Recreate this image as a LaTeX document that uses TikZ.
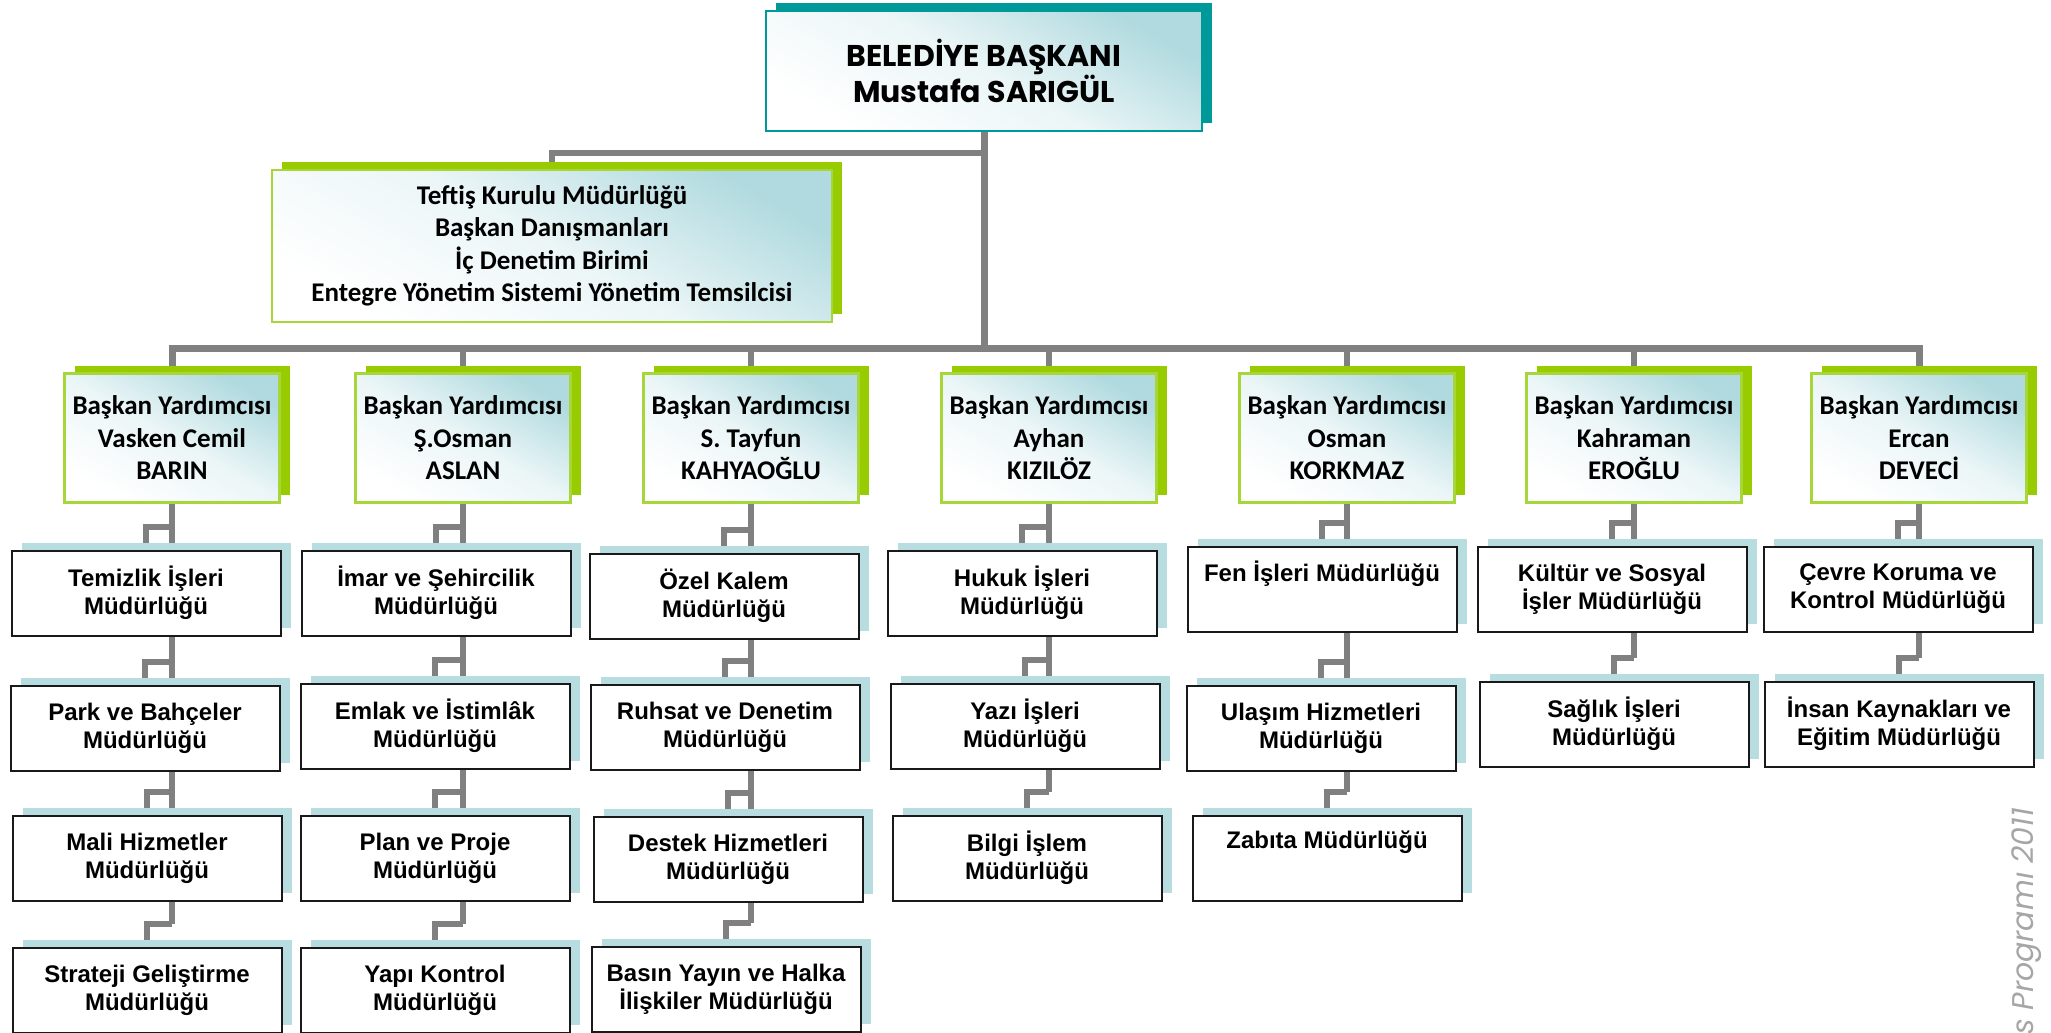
\documentclass[tikz,border=0pt]{standalone}
\usepackage{fontspec}
\usetikzlibrary{shadows,calc}
\newfontfamily\calfont{Carlito}
\newfontfamily\arfont{Liberation Sans}
\newfontfamily\gothfont{Poppins}
\definecolor{tealc}{HTML}{009999}
\definecolor{greenc}{HTML}{99CC00}
\definecolor{greenb}{HTML}{A6D637}
\definecolor{lineg}{HTML}{808080}
\definecolor{shblue}{HTML}{B7DDE1}
\definecolor{gradblue}{HTML}{B0DADF}
\pgfdeclarelayer{bg}
\pgfsetlayers{bg,main}
\newcommand\orgelbow[2]{%
  \coordinate (#2e) at ($(#2.north)+(0,-23)$);
  \draw[conn] (#1.south |- #2e) -| (#2.north);}
\begin{document}
\begin{tikzpicture}[x=1pt,y=-1pt,
  gradfill/.style={top color=gradblue, bottom color=white, shading angle=-30, middle color=white!75!gradblue},
  topbox/.style={draw=tealc, line width=2pt, gradfill,
    general shadow={fill=tealc, shadow xshift=10pt, shadow yshift=8pt},
    minimum width=436pt, minimum height=120pt, inner sep=0pt, align=center,
    font=\gothfont\bfseries\fontsize{30}{35}\selectfont},
  vpbox/.style={draw=greenb, line width=2.5pt, gradfill,
    general shadow={fill=greenc, shadow xshift=10pt, shadow yshift=8pt},
    minimum width=215pt, minimum height=129pt, inner sep=0pt, align=center,
    font=\calfont\bfseries\fontsize{27}{32.5}\selectfont},
  depbox/.style={draw=black!90, line width=2pt, fill=white,
    general shadow={fill=shblue, shadow xshift=10pt, shadow yshift=8pt},
    minimum width=269pt, minimum height=85pt, inner sep=0pt, align=center,
    font=\arfont\bfseries\fontsize{24}{28}\selectfont},
  conn/.style={draw=lineg, line width=6pt},
  mainconn/.style={draw=lineg, line width=7pt},
  yeartext/.style={text=black!35, font=\gothfont\itshape\fontsize{30}{34}\selectfont, inner sep=0pt}
]
\useasboundingbox (0,0) rectangle (2051,1033);

% top
\node[topbox] (mayor) at (984,71) {BELEDİYE BAŞKANI\\Mustafa SARIGÜL};
\node[vpbox, minimum width=560pt, minimum height=152pt] (tef) at (552,246)
  {Teftiş Kurulu Müdürlüğü\\Başkan Danışmanları\\İç Denetim Birimi\\Entegre Yönetim Sistemi Yönetim Temsilcisi};

% vice mayors
\node[vpbox] (v1) at (172,438) {Başkan Yardımcısı\\Vasken Cemil\\BARIN};
\node[vpbox] (v2) at (463,438) {Başkan Yardımcısı\\Ş.Osman\\ASLAN};
\node[vpbox] (v3) at (751,438) {Başkan Yardımcısı\\S. Tayfun\\KAHYAOĞLU};
\node[vpbox] (v4) at (1049,438) {Başkan Yardımcısı\\Ayhan\\KIZILÖZ};
\node[vpbox] (v5) at (1347,438) {Başkan Yardımcısı\\Osman\\KORKMAZ};
\node[vpbox] (v6) at (1634,438) {Başkan Yardımcısı\\Kahraman\\EROĞLU};
\node[vpbox] (v7) at (1919,438) {Başkan Yardımcısı\\Ercan\\DEVECİ};

% departments
\node[depbox] (a1) at (146,593) {Temizlik İşleri\\Müdürlüğü};
\node[depbox] (a2) at (145,728) {Park ve Bahçeler\\Müdürlüğü};
\node[depbox] (a3) at (147,858) {Mali Hizmetler\\Müdürlüğü};
\node[depbox] (a4) at (147,990) {Strateji Geliştirme\\Müdürlüğü};

\node[depbox] (b1) at (436,593) {İmar ve Şehircilik\\Müdürlüğü};
\node[depbox] (b2) at (435,726) {Emlak ve İstimlâk\\Müdürlüğü};
\node[depbox] (b3) at (435,858) {Plan ve Proje\\Müdürlüğü};
\node[depbox] (b4) at (435,990) {Yapı Kontrol\\Müdürlüğü};

\node[depbox] (c1) at (724,596) {Özel Kalem\\Müdürlüğü};
\node[depbox] (c2) at (725,727) {Ruhsat ve Denetim\\Müdürlüğü};
\node[depbox] (c3) at (728,859) {Destek Hizmetleri\\Müdürlüğü};
\node[depbox] (c4) at (726,989) {Basın Yayın ve Halka\\İlişkiler Müdürlüğü};

\node[depbox] (d1) at (1022,593) {Hukuk İşleri\\Müdürlüğü};
\node[depbox] (d2) at (1025,726) {Yazı İşleri\\Müdürlüğü};
\node[depbox] (d3) at (1027,858) {Bilgi İşlem\\Müdürlüğü};

\node[depbox] (e1) at (1322,589) {Fen İşleri Müdürlüğü\\\strut};
\node[depbox] (e2) at (1321,728) {Ulaşım Hizmetleri\\Müdürlüğü};
\node[depbox] (e3) at (1327,858) {Zabıta Müdürlüğü\\\strut};

\node[depbox] (f1) at (1612,589) {Kültür ve Sosyal\\İşler Müdürlüğü};
\node[depbox] (f2) at (1614,724) {Sağlık İşleri\\Müdürlüğü};

\node[depbox] (g1) at (1898,589) {Çevre Koruma ve\\Kontrol Müdürlüğü};
\node[depbox] (g2) at (1899,724) {İnsan Kaynakları ve\\Eğitim Müdürlüğü};

\node[yeartext, rotate=90, anchor=base east] (year) at (2033,808) {s Programı 2011};

\begin{pgfonlayer}{bg}
  \fill[white] (0,0) rectangle (2051,1033);
  \coordinate (hub) at (984,348);
  \coordinate (tj) at (984,153);
  \draw[mainconn] (mayor.south) -- (hub);
  \draw[conn] (tj) -| (tef.north);
  \draw[mainconn] (v1.north) |- (hub) -| (v7.north);
  \foreach \v in {v2,v3,v4,v5,v6} { \draw[conn] (\v.north |- hub) -- (\v.north); }
  % column elbows
  \orgelbow{v1}{a1} \orgelbow{v1}{a2} \orgelbow{v1}{a3} \orgelbow{v1}{a4}
  \draw[conn] (v1.south) -- (v1.south |- a4e);
  \orgelbow{v2}{b1} \orgelbow{v2}{b2} \orgelbow{v2}{b3} \orgelbow{v2}{b4}
  \draw[conn] (v2.south) -- (v2.south |- b4e);
  \orgelbow{v3}{c1} \orgelbow{v3}{c2} \orgelbow{v3}{c3} \orgelbow{v3}{c4}
  \draw[conn] (v3.south) -- (v3.south |- c4e);
  \orgelbow{v4}{d1} \orgelbow{v4}{d2} \orgelbow{v4}{d3}
  \draw[conn] (v4.south) -- (v4.south |- d3e);
  \orgelbow{v5}{e1} \orgelbow{v5}{e2} \orgelbow{v5}{e3}
  \draw[conn] (v5.south) -- (v5.south |- e3e);
  \orgelbow{v6}{f1} \orgelbow{v6}{f2}
  \draw[conn] (v6.south) -- (v6.south |- f2e);
  \orgelbow{v7}{g1} \orgelbow{v7}{g2}
  \draw[conn] (v7.south) -- (v7.south |- g2e);
\end{pgfonlayer}
\end{tikzpicture}
\end{document}
